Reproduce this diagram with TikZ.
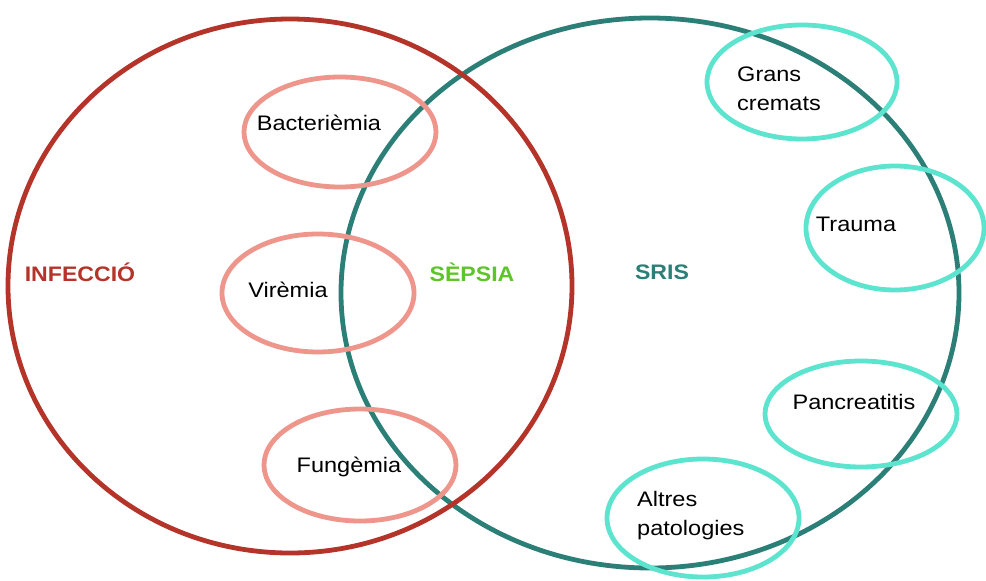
\documentclass[tikz,border=0pt]{standalone}
\usepackage{fontspec}
\setmainfont{Liberation Sans}
\definecolor{infred}{HTML}{B5342A}
\definecolor{sristeal}{HTML}{2B7F77}
\definecolor{salmon}{HTML}{EF968C}
\definecolor{cyanring}{HTML}{5CE4CF}
\definecolor{sepgreen}{HTML}{5DC42A}
\begin{document}
\begin{tikzpicture}[x=1pt,y=-1pt,
  bigring/.style={line width=4.8pt},
  smallring/.style={line width=4.8pt},
  lbl/.style={font=\fontsize{21}{24}\selectfont, align=left, inner sep=0pt},
  setlbl/.style={font=\bfseries\fontsize{21}{24}\selectfont, inner sep=0pt}]
\useasboundingbox (0,0) rectangle (986,581);
\fill[white] (0,0) rectangle (986,581);
% big sets
\draw[bigring, sristeal] (650,293) ellipse [x radius=309, y radius=275];
\draw[bigring, infred] (290,286) ellipse [x radius=282, y radius=267];
% infection subsets
\draw[smallring, salmon] (340,132) ellipse [x radius=96, y radius=55];
\draw[smallring, salmon] (318,293) ellipse [x radius=96, y radius=59];
\draw[smallring, salmon] (360,465) ellipse [x radius=96, y radius=56];
% SRIS subsets
\draw[smallring, cyanring] (802,82) ellipse [x radius=95, y radius=57];
\draw[smallring, cyanring] (895,228) ellipse [x radius=89, y radius=62];
\draw[smallring, cyanring] (861,414) ellipse [x radius=96, y radius=53];
\draw[smallring, cyanring] (703,518) ellipse [x radius=96, y radius=59];
% labels
\node[setlbl, text=infred] (infeccio) at (80,272) {\scalebox{1.1}[1]{INFECCIÓ}};
\node[setlbl, text=sepgreen] (sepsia) at (472,272) {\scalebox{1.1}[1]{SÈPSIA}};
\node[setlbl, text=sristeal] (sris) at (662,272) {\scalebox{1.1}[1]{SRIS}};
\node[lbl] (bact) at (319,123) {\scalebox{1.12}[1]{Bacterièmia}};
\node[lbl] (vir) at (288,290) {\scalebox{1.12}[1]{Virèmia}};
\node[lbl] (fung) at (349,467) {\scalebox{1.12}[1]{Fungèmia}};
\node[lbl, anchor=west] (grans) at (737,91) {\scalebox{1.12}[1]{\begin{tabular}{@{}l@{}}Grans\\[5pt]cremats\end{tabular}}};
\node[lbl, anchor=west] (altres) at (637,516) {\scalebox{1.12}[1]{\begin{tabular}{@{}l@{}}Altres\\[5pt]patologies\end{tabular}}};
\node[lbl] (trauma) at (856,224) {\scalebox{1.12}[1]{Trauma}};
\node[lbl] (pancr) at (854,402) {\scalebox{1.12}[1]{Pancreatitis}};
\end{tikzpicture}
\end{document}
